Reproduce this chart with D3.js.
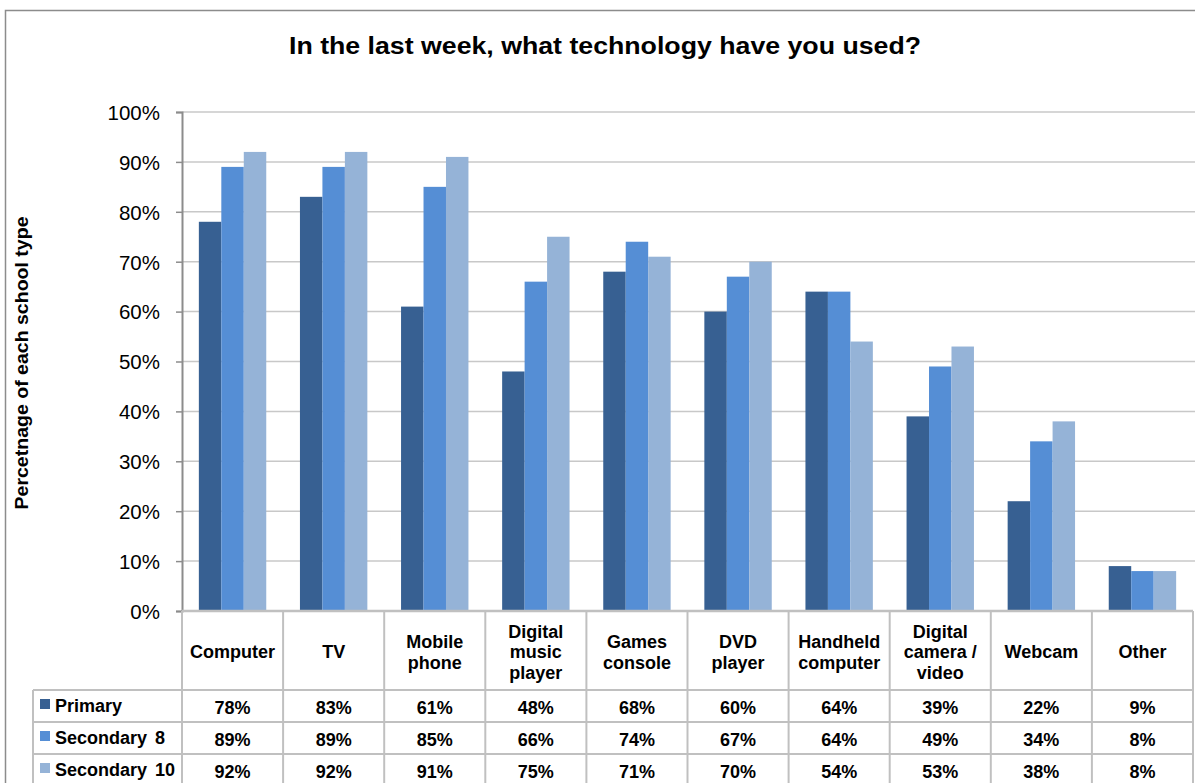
<!DOCTYPE html>
<html><head><meta charset="utf-8">
<script src="https://cdn.jsdelivr.net/npm/d3@7"></script>
<style>body{margin:0;background:#fff}svg{display:block}text{font-family:"Liberation Sans",Arial,sans-serif}</style>
</head><body>
<svg id="c" width="1195" height="783"></svg>
<script>
const title = "In the last week, what technology have you used?";
const yLabel = "Percetnage of each school type";
const categories = [["Computer"],["TV"],["Mobile","phone"],["Digital","music","player"],["Games","console"],["DVD","player"],["Handheld","computer"],["Digital","camera /","video"],["Webcam"],["Other"]];
const seriesNames = ["Primary","Secondary 8","Secondary 10"];
const primary = [78,83,61,48,68,60,64,39,22,9];
const secondary8 = [89,89,85,66,74,67,64,49,34,8];
const secondary10 = [92,92,91,75,71,70,54,53,38,8];
const yTicks = [0,10,20,30,40,50,60,70,80,90,100];
const colors = ["#376092","#558ED5","#95B3D7"];
const series = [primary, secondary8, secondary10];

const svg = d3.select("#c");
const L = 182, R = 1193, T = 112, B = 611;
const keys = categories.map((c,i)=>i);
const x = d3.scaleBand().domain(keys).range([L,R]).paddingInner(1/3).paddingOuter(1/6);
const x1 = d3.scaleBand().domain([0,1,2]).range([0,x.bandwidth()]);
const y = d3.scaleLinear().domain([0,100]).range([B,T]);
const grid = "#c0c0c0";
const fs = 18;

svg.append("rect").attr("x",5.5).attr("y",10.5).attr("width",1200).attr("height",800).attr("fill","none").attr("stroke","#8c8c8c").attr("stroke-width",1.5);

svg.append("text").attr("x",605).attr("y",54).attr("text-anchor","middle").attr("font-size",23).attr("font-weight","bold").attr("textLength",632).attr("lengthAdjust","spacingAndGlyphs").text(title);

svg.append("g").selectAll("line").data(yTicks.filter(d=>d>0)).join("line")
  .attr("x1",L).attr("x2",1195).attr("y1",d=>y(d)).attr("y2",d=>y(d)).attr("stroke","#c8c8c8").attr("stroke-width",1.5);

const yAxis = d3.axisLeft(y).tickValues(yTicks).tickFormat(d=>d+"%").tickSize(6).tickPadding(16);
const ga = svg.append("g").attr("transform",`translate(${L},0)`).call(yAxis);
ga.select(".domain").attr("stroke","#8c8c8c").attr("stroke-width",2);
ga.selectAll(".tick line").attr("stroke","#8c8c8c").attr("stroke-width",1.5);
ga.selectAll(".tick text").attr("font-size",20.5).attr("fill","#000").attr("font-family","Liberation Sans, Arial, sans-serif").attr("dy","0.36em");

svg.append("text").attr("transform",`translate(28,363) rotate(-90)`).attr("text-anchor","middle").attr("font-size",17.5).attr("font-weight","bold").attr("textLength",293).attr("lengthAdjust","spacingAndGlyphs").text(yLabel);

series.forEach((vals,s)=>{
  svg.append("g").selectAll("rect").data(vals).join("rect")
    .attr("x",(d,i)=>x(i)+x1(s)).attr("width",x1.bandwidth())
    .attr("y",d=>y(d)).attr("height",d=>B-y(d)).attr("fill",colors[s]);
});

const rowY = [B,690,722,754,786];
const tg = svg.append("g");
const step = x.step();
const colX = d3.range(11).map(i=>L+i*step);
tg.append("line").attr("x1",L).attr("x2",R).attr("y1",B).attr("y2",B).attr("stroke",grid).attr("stroke-width",2.5);
[690,722,754].forEach(yy=>tg.append("line").attr("x1",33).attr("x2",R).attr("y1",yy).attr("y2",yy).attr("stroke",grid).attr("stroke-width",2));
colX.forEach(xx=>tg.append("line").attr("x1",xx).attr("x2",xx).attr("y1",B).attr("y2",790).attr("stroke",grid).attr("stroke-width",2));
tg.append("line").attr("x1",33).attr("x2",33).attr("y1",690).attr("y2",790).attr("stroke",grid).attr("stroke-width",2);

categories.forEach((lines,i)=>{
  const cx = x(i)+x.bandwidth()/2;
  const n = lines.length, lh = 20.5;
  lines.forEach((t,k)=>{
    tg.append("text").attr("x",cx).attr("y",652+(k-(n-1)/2)*lh).attr("dy","0.36em").attr("text-anchor","middle").attr("font-size",fs).attr("font-weight","bold").text(t);
  });
});
seriesNames.forEach((nm,s)=>{
  const cy = (rowY[s+1]+rowY[s+2])/2 + 1;
  tg.append("rect").attr("x",40).attr("y",cy-8).attr("width",10).attr("height",10).attr("fill",colors[s]);
  tg.append("text").attr("x",55).attr("y",cy-1).attr("dy","0.36em").attr("font-size",fs).attr("font-weight","bold").attr("word-spacing",3).text(nm);
  series[s].forEach((v,i)=>{
    tg.append("text").attr("x",x(i)+x.bandwidth()/2).attr("y",cy+1).attr("dy","0.36em").attr("text-anchor","middle").attr("font-size",fs).attr("font-weight","bold").text(v+"%");
  });
});
</script>
</body></html>
